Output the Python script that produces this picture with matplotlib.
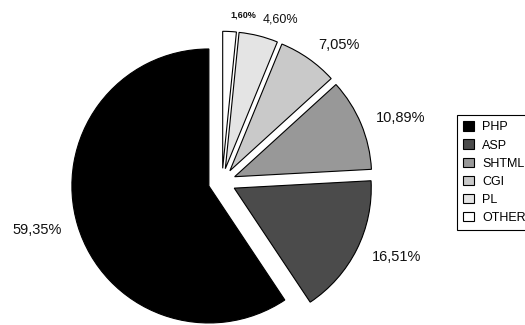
import matplotlib
matplotlib.use('Agg')
import matplotlib.pyplot as plt

categories = ['PHP', 'ASP', 'SHTML', 'CGI', 'PL', 'OTHER']
shares = [59.35, 16.51, 10.89, 7.05, 4.60, 1.60]
colors = ['#000000', '#4b4b4b', '#989898', '#c9c9c9', '#e4e4e4', '#ffffff']

plt.rcParams['font.family'] = ['Liberation Sans', 'DejaVu Sans']

W, H = 525, 325
cx, cy, R = 222, 182, 137  # pie centre / radius in pixels

fig = plt.figure(figsize=(W / 100, H / 100), dpi=100)
ax = fig.add_axes([0, 0, 1, 1])

labels = [f"{v:.2f}%".replace('.', ',') for v in shares]
wedges, texts = ax.pie(shares, colors=colors, startangle=90, counterclock=True,
                       explode=[0.1] * len(shares), labels=labels,
                       labeldistance=1.12,
                       wedgeprops=dict(edgecolor='black', linewidth=0.8),
                       textprops=dict(fontsize=10.5, color='#111111'))
texts[4].set_fontsize(9)
texts[5].set_fontsize(6.5)
texts[5].set_fontweight('bold')

ax.set_xlim(-cx / R, (W - cx) / R)
ax.set_ylim(-(H - cy) / R, cy / R)
ax.set_aspect('auto')
ax.axis('off')

leg = fig.legend(wedges, categories, loc='upper left',
                 bbox_to_anchor=(457 / W, 1 - 115 / H), fontsize=9,
                 frameon=True, fancybox=False, edgecolor='black', framealpha=1,
                 borderpad=0.5, labelspacing=0.48, handlelength=0.88,
                 handleheight=0.8, handletextpad=0.64, borderaxespad=0)
leg.get_frame().set_linewidth(0.8)

fig.savefig('out.png', dpi=100)
